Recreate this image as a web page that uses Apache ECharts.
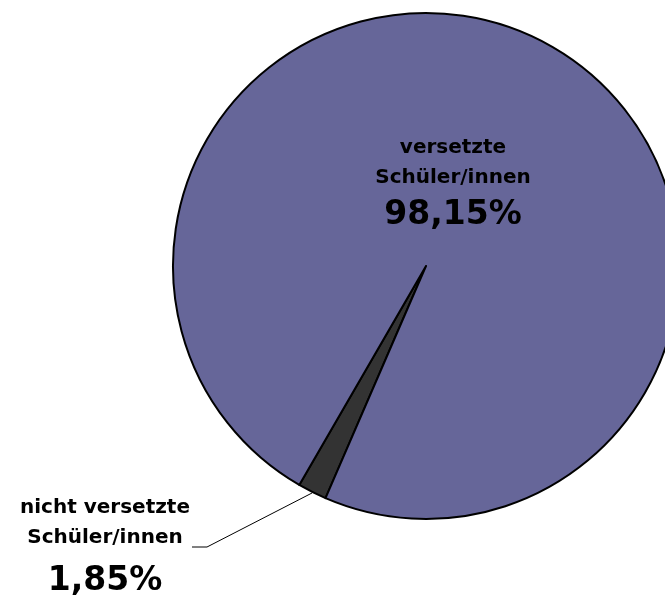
<!DOCTYPE html>
<html>
<head>
<meta charset="utf-8">
<script src="https://cdn.jsdelivr.net/npm/echarts@6/dist/echarts.min.js"></script>
<style>
  html, body { margin: 0; padding: 0; background: #fff; }
  #chart { width: 665px; height: 601px; }
</style>
</head>
<body>
<div id="chart"></div>
<script>
const categories = ["nicht versetzte\nSchüler/innen", "versetzte\nSchüler/innen"];
const shares = [1.85, 98.15];
const percentLabels = ["1,85%", "98,15%"];
const sliceColors = ["#333333", "#666699"];

const chart = echarts.init(document.getElementById("chart"), null, { renderer: "canvas" });
const font = "'DejaVu Sans', sans-serif";

function richFor(lastLine) {
  return {
    t: { fontFamily: font, fontSize: 20, fontWeight: "bold", color: "#000", lineHeight: 30 },
    p: { fontFamily: font, fontSize: 33, fontWeight: "bold", color: "#000", lineHeight: lastLine }
  };
}

const data = categories.map((name, i) => {
  const lines = name.split("\n").map(s => `{t|${s}}`).join("\n");
  return {
    name,
    value: shares[i],
    itemStyle: { color: sliceColors[i] },
    label: {
      position: i === 0 ? "outside" : "inside",
      formatter: `${lines}\n{p|${percentLabels[i]}}`,
      rich: richFor(i === 0 ? 56 : 44)
    },
    labelLine: { show: i === 0 }
  };
});

chart.setOption({
  animation: false,
  backgroundColor: "#fff",
  series: [{
    type: "pie",
    center: [426, 266],
    radius: 253,
    startAngle: 246.6,
    clockwise: true,
    avoidLabelOverlap: false,
    itemStyle: { borderColor: "#000", borderWidth: 2 },
    emphasis: { disabled: true },
    label: { show: true, align: "center" },
    labelLine: { lineStyle: { color: "#000", width: 1 } },
    labelLayout(params) {
      if (params.dataIndex === 0) {
        return {
          x: 105, y: 493, align: "center", verticalAlign: "top",
          labelLinePoints: [[312, 493], [207, 547], [192, 547]]
        };
      }
      return { x: 453, y: 133, align: "center", verticalAlign: "top" };
    },
    data
  }]
});
</script>
</body>
</html>
